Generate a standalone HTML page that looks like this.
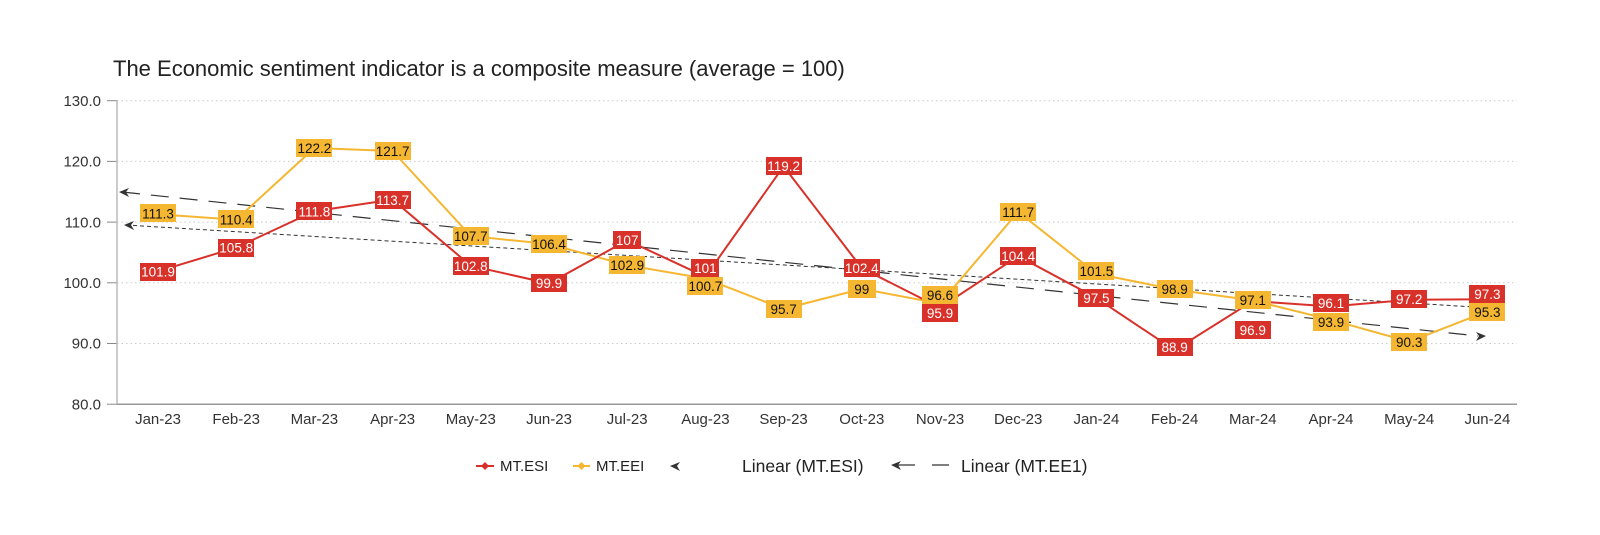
<!DOCTYPE html>
<html><head><meta charset="utf-8"><style>
body{margin:0;background:#fff;}
svg text{font-family:"Liberation Sans",Arial,sans-serif;}
</style></head><body>
<svg width="1600" height="530" viewBox="0 0 1600 530" xmlns="http://www.w3.org/2000/svg">
<text x="113" y="76" font-size="22" fill="#222">The Economic sentiment indicator is a composite measure (average = 100)</text>
<g stroke="#ccc" stroke-width="1" stroke-dasharray="1.5,3">
<line x1="117" y1="100.7" x2="1517" y2="100.7"/><line x1="117" y1="161.4" x2="1517" y2="161.4"/><line x1="117" y1="222.1" x2="1517" y2="222.1"/><line x1="117" y1="282.8" x2="1517" y2="282.8"/><line x1="117" y1="343.5" x2="1517" y2="343.5"/>
</g>
<g stroke="#888" stroke-width="1">
<line x1="107" y1="100.7" x2="117" y2="100.7"/><line x1="107" y1="161.4" x2="117" y2="161.4"/><line x1="107" y1="222.1" x2="117" y2="222.1"/><line x1="107" y1="282.8" x2="117" y2="282.8"/><line x1="107" y1="343.5" x2="117" y2="343.5"/><line x1="107" y1="404.2" x2="117" y2="404.2"/>
</g>
<line x1="117" y1="100" x2="117" y2="404" stroke="#bbb" stroke-width="1.5"/>
<line x1="117" y1="404.2" x2="1517" y2="404.2" stroke="#999" stroke-width="1.5"/>
<g font-size="15" fill="#333" text-anchor="end">
<text x="101" y="106">130.0</text><text x="101" y="166.5">120.0</text><text x="101" y="227.5">110.0</text><text x="101" y="288">100.0</text><text x="101" y="348.5">90.0</text><text x="101" y="409.5">80.0</text>
</g>
<g font-size="15" fill="#333" text-anchor="middle">
<text x="158" y="424">Jan-23</text><text x="236.2" y="424">Feb-23</text><text x="314.4" y="424">Mar-23</text><text x="392.6" y="424">Apr-23</text><text x="470.8" y="424">May-23</text><text x="549" y="424">Jun-23</text><text x="627.2" y="424">Jul-23</text><text x="705.4" y="424">Aug-23</text><text x="783.6" y="424">Sep-23</text><text x="861.8" y="424">Oct-23</text><text x="940" y="424">Nov-23</text><text x="1018.2" y="424">Dec-23</text><text x="1096.4" y="424">Jan-24</text><text x="1174.6" y="424">Feb-24</text><text x="1252.8" y="424">Mar-24</text><text x="1331" y="424">Apr-24</text><text x="1409.2" y="424">May-24</text><text x="1487.4" y="424">Jun-24</text>
</g>
<!-- trend lines -->
<line x1="122" y1="192" x2="1478" y2="336" stroke="#333" stroke-width="1.2" stroke-dasharray="18,11"/>
<path d="M119,192 l10,-4 l-3,4 l3,5z M1486,336 l-10,-4 l3,4 l-3,5z" fill="#333"/>
<line x1="126" y1="225" x2="1475" y2="307" stroke="#333" stroke-width="1" stroke-dasharray="4,3"/>
<path d="M124,225 l10,-4 l-3,4 l3,5z" fill="#333"/>
<!-- series -->
<polyline fill="none" stroke="#f5b731" stroke-width="2" points="158,214.2 236.2,219.7 314.4,148 392.6,151.1 470.8,236.1 549,244 627.2,265.2 705.4,278.6 783.6,308.9 861.8,288.9 940,303.5 1018.2,211.8 1096.4,273.7 1174.6,289.5 1252.8,300.4 1331,319.8 1409.2,341.7 1487.4,311.3"/>
<polyline fill="none" stroke="#d8312a" stroke-width="2" points="158,271.3 236.2,247.6 314.4,211.2 392.6,199.6 470.8,265.8 549,283.4 627.2,240.3 705.4,276.7 783.6,166.3 861.8,268.2 940,307.7 1018.2,256.1 1096.4,298 1174.6,350.2 1252.8,301 1331,306.5 1409.2,299.8 1487.4,299.2"/>
<g font-size="13.5" text-anchor="middle">
<g fill="#f5b731">
<rect x="140" y="204" width="36" height="18"/><rect x="218" y="210" width="36" height="18"/><rect x="296" y="139" width="36" height="18"/><rect x="375" y="142" width="36" height="18"/><rect x="453" y="227" width="36" height="18"/><rect x="531" y="235" width="36" height="18"/><rect x="609" y="256" width="36" height="18"/><rect x="687" y="277" width="36" height="18"/><rect x="766" y="300" width="36" height="18"/><rect x="848" y="280" width="28" height="18"/><rect x="922" y="286" width="36" height="18"/><rect x="1000" y="203" width="36" height="18"/><rect x="1078" y="262" width="36" height="18"/><rect x="1157" y="280" width="36" height="18"/><rect x="1235" y="291" width="36" height="18"/><rect x="1313" y="313" width="36" height="18"/><rect x="1391" y="333" width="36" height="18"/><rect x="1469" y="303" width="36" height="18"/>
</g>
<g fill="#111">
<text x="158" y="218.5">111.3</text><text x="236.2" y="224.5">110.4</text><text x="314.4" y="153">122.2</text><text x="392.6" y="156">121.7</text><text x="470.8" y="241">107.7</text><text x="549" y="249">106.4</text><text x="627.2" y="270">102.9</text><text x="705.4" y="291">100.7</text><text x="783.6" y="314">95.7</text><text x="861.8" y="294">99</text><text x="940" y="300">96.6</text><text x="1018.2" y="217">111.7</text><text x="1096.4" y="276">101.5</text><text x="1174.6" y="294">98.9</text><text x="1252.8" y="305">97.1</text><text x="1331" y="327">93.9</text><text x="1409.2" y="347">90.3</text><text x="1487.4" y="317">95.3</text>
</g>
<g fill="#d8312a">
<rect x="140" y="263" width="36" height="18"/><rect x="218" y="239" width="36" height="18"/><rect x="296" y="202" width="36" height="18"/><rect x="375" y="191" width="36" height="18"/><rect x="453" y="257" width="36" height="18"/><rect x="531" y="274" width="36" height="18"/><rect x="613" y="231" width="28" height="18"/><rect x="691" y="259" width="28" height="18"/><rect x="766" y="157" width="36" height="18"/><rect x="844" y="259" width="36" height="18"/><rect x="922" y="304" width="36" height="18"/><rect x="1000" y="247" width="36" height="18"/><rect x="1078" y="289" width="36" height="18"/><rect x="1157" y="338" width="36" height="18"/><rect x="1235" y="321" width="36" height="18"/><rect x="1313" y="294" width="36" height="18"/><rect x="1391" y="290" width="36" height="18"/><rect x="1469" y="285" width="36" height="18"/>
</g>
<g fill="#fff">
<text x="158" y="276.5">101.9</text><text x="236.2" y="252.5">105.8</text><text x="314.4" y="216.5">111.8</text><text x="392.6" y="205">113.7</text><text x="470.8" y="271">102.8</text><text x="549" y="288">99.9</text><text x="627.2" y="245">107</text><text x="705.4" y="273">101</text><text x="783.6" y="171">119.2</text><text x="861.8" y="273">102.4</text><text x="940" y="318">95.9</text><text x="1018.2" y="261">104.4</text><text x="1096.4" y="303">97.5</text><text x="1174.6" y="352">88.9</text><text x="1252.8" y="335">96.9</text><text x="1331" y="308">96.1</text><text x="1409.2" y="304">97.2</text><text x="1487.4" y="299">97.3</text>
</g>
</g>
<!-- legend -->
<line x1="476" y1="466" x2="494" y2="466" stroke="#d8312a" stroke-width="2"/><path d="M485,462 l4,4 l-4,4 l-4,-4z" fill="#d8312a"/>
<text x="500" y="471" font-size="15" fill="#222">MT.ESI</text>
<line x1="573" y1="466" x2="590" y2="466" stroke="#f5b731" stroke-width="2"/><path d="M581.5,462 l4,4 l-4,4 l-4,-4z" fill="#f5b731"/>
<text x="596" y="471" font-size="15" fill="#222">MT.EEI</text>
<path d="M670,466 l10,-4 l-3,4 l3,5z" fill="#333"/>
<text x="742" y="472" font-size="17.5" fill="#222">Linear (MT.ESI)</text>
<line x1="894" y1="465" x2="915" y2="465" stroke="#333" stroke-width="1.2"/><path d="M891,465 l10,-4 l-3,4 l3,5z" fill="#333"/>
<line x1="932" y1="465" x2="949" y2="465" stroke="#333" stroke-width="1.2"/>
<text x="961" y="472" font-size="17.5" fill="#222">Linear (MT.EE1)</text>
</svg>
</body></html>
